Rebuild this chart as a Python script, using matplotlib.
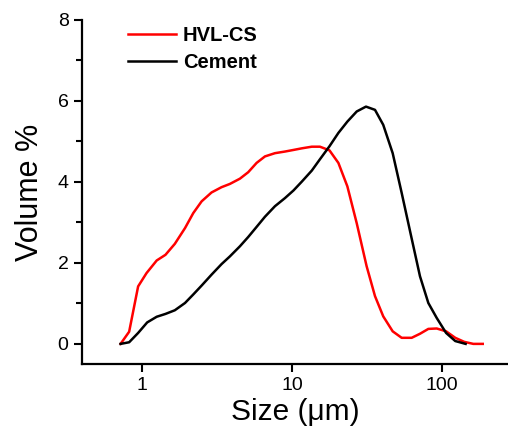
import numpy as np
import matplotlib.pyplot as plt
from matplotlib.ticker import MultipleLocator, FixedLocator, NullLocator

plt.rcParams['font.family'] = ['Liberation Sans', 'DejaVu Sans']

# HVL-CS size distribution
size_hvl = [0.718, 0.819, 0.94, 1.07, 1.25, 1.43, 1.65, 1.93, 2.19, 2.49, 2.90,
            3.38, 3.84, 4.48, 5.09, 5.79, 6.58, 7.67, 8.94, 10.2, 11.6, 13.5,
            15.3, 17.7, 20.3, 23.3, 26.9, 31.3, 35.6, 40.4, 46.7, 53.6, 62.5,
            71, 80.7, 91.8, 106, 122, 140, 161, 186]
vol_hvl = [0, 0.30, 1.42, 1.75, 2.06, 2.2, 2.47, 2.86, 3.23, 3.52, 3.74,
           3.87, 3.95, 4.08, 4.24, 4.47, 4.63, 4.71, 4.75, 4.79, 4.83, 4.87,
           4.87, 4.78, 4.47, 3.89, 2.98, 1.92, 1.18, 0.68, 0.31, 0.15, 0.15,
           0.25, 0.37, 0.38, 0.31, 0.15, 0.05, 0, 0]

# Cement
size_cem = [0.718, 0.819, 0.94, 1.08, 1.25, 1.43, 1.65, 1.93, 2.19, 2.49, 2.90,
            3.38, 3.84, 4.48, 5.09, 5.79, 6.58, 7.67, 8.94, 10.2, 11.6, 13.5,
            15.3, 17.7, 20.3, 23.3, 26.9, 31, 35.6, 40.4, 46.7, 53.6, 62,
            71, 80.7, 91.8, 106, 122, 143]
vol_cem = [0, 0.04, 0.27, 0.53, 0.67, 0.74, 0.83, 1.01, 1.22, 1.44, 1.71,
           1.97, 2.16, 2.41, 2.64, 2.89, 3.14, 3.40, 3.60, 3.79, 4.01, 4.28,
           4.56, 4.88, 5.21, 5.49, 5.74, 5.86, 5.78, 5.41, 4.71, 3.73, 2.66,
           1.67, 1.01, 0.64, 0.27, 0.07, 0]

fig = plt.figure(figsize=(5.08, 4.34), dpi=100)
ax = fig.add_axes([0.161, 0.161, 0.839, 0.793])

ax.plot(size_hvl, vol_hvl, color='#ff0000', lw=1.8, label='HVL-CS')
ax.plot(size_cem, vol_cem, color='black', lw=1.8, label='Cement')

ax.set_xscale('log')
ax.set_xlim(0.396, 274)
ax.set_ylim(-0.5, 8)
ax.xaxis.set_major_locator(FixedLocator([1, 10, 100]))
ax.set_xticklabels(['1', '10', '100'])
ax.xaxis.set_minor_locator(NullLocator())
ax.yaxis.set_major_locator(FixedLocator([0, 2, 4, 6, 8]))
ax.yaxis.set_minor_locator(FixedLocator([1, 3, 5, 7]))

for s in ['top', 'right']:
    ax.spines[s].set_visible(False)
for s in ['left', 'bottom']:
    ax.spines[s].set_linewidth(1.6)
ax.spines['left'].set_bounds(-0.5, 8)

ax.tick_params(which='major', direction='out', length=6, width=1.5, labelsize=14)
ax.tick_params(which='minor', direction='out', length=4, width=1.5)

ax.set_xlabel('Size (\u03bcm)', fontsize=21.5, labelpad=3)
ax.set_ylabel('Volume %', fontsize=22, labelpad=9)

ax.legend(loc='upper left', bbox_to_anchor=(0.065, 1.035), frameon=False,
          handlelength=2.4, handletextpad=0.35, labelspacing=0.38,
          prop={'weight': 'bold', 'size': 14.5})

plt.savefig('out.png', dpi=100)
